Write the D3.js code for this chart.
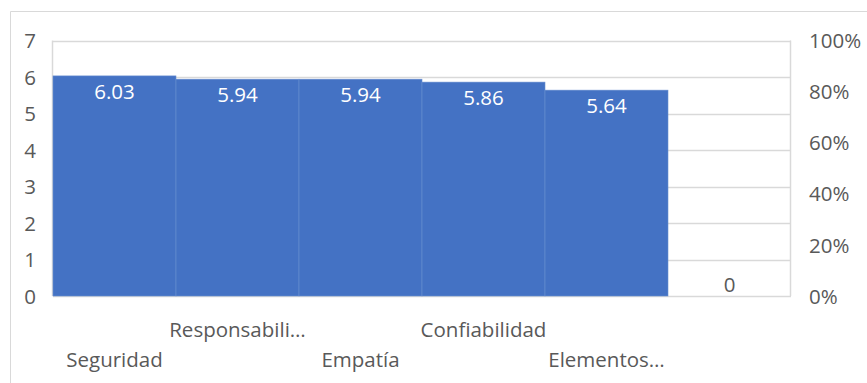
<!DOCTYPE html>
<html>
<head>
<meta charset="utf-8">
<script src="https://cdn.jsdelivr.net/npm/d3@7/dist/d3.min.js"></script>
<style>
  html, body { margin: 0; padding: 0; background: #fff; }
  svg { display: block; }
  text { font-family: "Open Sans", "Noto Sans", sans-serif; }
</style>
</head>
<body>
<svg id="chart" width="867" height="383"></svg>
<script>
// Service-quality dimensions and their mean scores
const categories = ["Seguridad", "Responsabili…", "Empatía", "Confiabilidad", "Elementos…", ""];
const values = [6.03, 5.94, 5.94, 5.86, 5.64, 0];
const leftTicks = [0, 1, 2, 3, 4, 5, 6, 7];
const rightTicks = [0, 0.2, 0.4, 0.6, 0.8, 1.0];

const svg = d3.select("#chart");
const W = 867, H = 383;
const plot = { left: 53, right: 791, top: 40.5, bottom: 296 };
const FS = 20.5;

// Chart frame: top and left edges (the rest runs past the page)
svg.append("path")
  .attr("d", `M10.5,${H} L10.5,11.5 L${W},11.5`)
  .attr("fill", "none").attr("stroke", "#d9d9d9").attr("stroke-width", 1);

const x = d3.scaleBand().domain(d3.range(categories.length))
  .range([plot.left, plot.right]).paddingInner(0).paddingOuter(0);
const y = d3.scaleLinear().domain([0, 7]).range([plot.bottom, plot.top]);
const y2 = d3.scaleLinear().domain([0, 1]).range([plot.bottom, plot.top]);

// Horizontal gridlines
svg.append("g").selectAll("line").data(leftTicks).join("line")
  .attr("x1", plot.left).attr("x2", plot.right)
  .attr("y1", d => Math.round(y(d)) + 0.5).attr("y2", d => Math.round(y(d)) + 0.5)
  .attr("stroke", "#d9d9d9").attr("stroke-width", 1.5);

// Plot-area side edges
[plot.left - 0.5, plot.right - 0.5].forEach(px => {
  svg.append("line")
    .attr("x1", px).attr("x2", px)
    .attr("y1", plot.top).attr("y2", plot.bottom)
    .attr("stroke", "#d9d9d9").attr("stroke-width", 1.5);
});

// Bars
svg.append("g").selectAll("rect").data(values).join("rect")
  .attr("x", (d, i) => x(i))
  .attr("y", d => y(d))
  .attr("width", x.bandwidth())
  .attr("height", d => y(0) - y(d))
  .attr("fill", "#4472c4")
  .attr("stroke", "#6a8fd0").attr("stroke-width", 0.6);

// Value labels (inside end)
svg.append("g").selectAll("text").data(values).join("text")
  .attr("x", (d, i) => x(i) + x.bandwidth() / 2)
  .attr("y", d => d > 0 ? y(d) + 23 : y(0) - 4)
  .attr("text-anchor", "middle")
  .attr("font-size", FS)
  .attr("fill", d => d > 0 ? "#ffffff" : "#595959")
  .text(d => d === 0 ? "0" : d3.format(".2f")(d));

// Left axis
const leftAxis = d3.axisLeft(y).tickValues(leftTicks).tickSize(0).tickPadding(0).tickFormat(d3.format("d"));
const gl = svg.append("g").attr("transform", `translate(36,0)`).call(leftAxis);
gl.select(".domain").remove();
gl.selectAll("text").attr("font-size", FS).attr("fill", "#595959")
  .attr("font-family", "'Open Sans', 'Noto Sans', sans-serif").attr("text-anchor", "end").attr("dy", "0.35em");

// Right axis (percent)
const rightAxis = d3.axisRight(y2).tickValues(rightTicks).tickSize(0).tickPadding(0).tickFormat(d3.format(".0%"));
const gr = svg.append("g").attr("transform", `translate(809,0)`).call(rightAxis);
gr.select(".domain").remove();
gr.selectAll("text").attr("font-size", FS).attr("fill", "#595959")
  .attr("font-family", "'Open Sans', 'Noto Sans', sans-serif").attr("dy", "0.35em");

// Category labels, staggered on two rows
svg.append("g").selectAll("text").data(categories).join("text")
  .attr("x", (d, i) => x(i) + x.bandwidth() / 2)
  .attr("y", (d, i) => i % 2 === 1 ? 337 : 367)
  .attr("text-anchor", "middle")
  .attr("font-size", FS)
  .attr("fill", "#595959")
  .text(d => d);
</script>
</body>
</html>
